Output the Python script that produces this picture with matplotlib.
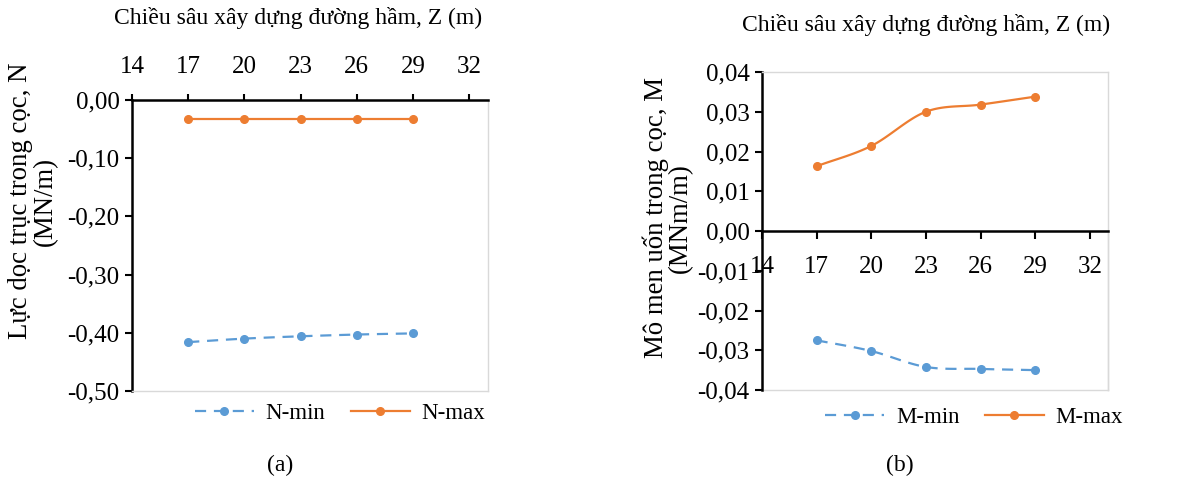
import numpy as np
import matplotlib.pyplot as plt
from matplotlib.ticker import FuncFormatter

plt.rcParams['font.family'] = ['Liberation Serif', 'DejaVu Serif']
plt.rcParams['font.size'] = 17

depth = [17, 20, 23, 26, 29]
n_min = [-0.416, -0.410, -0.406, -0.403, -0.401]
n_max = [-0.033, -0.033, -0.033, -0.033, -0.033]
m_min = [-0.0275, -0.0302, -0.0342, -0.0347, -0.0350]
m_max = [0.0163, 0.0214, 0.0300, 0.0318, 0.0338]

x_ticks = [14, 17, 20, 23, 26, 29, 32]
n_ticks = [0.0, -0.1, -0.2, -0.3, -0.4, -0.5]
m_ticks = [0.04, 0.03, 0.02, 0.01, 0.0, -0.01, -0.02, -0.03, -0.04]

BLUE = '#5B9BD5'
ORANGE = '#ED7D31'
GRID = '#D9D9D9'
W, H = 1201, 484
TICK_FS = 18
YLAB_FS = 19.3


def smooth(xs, ys, xlim, ylim, n=30):
    # Catmull-Rom curve through the points, like Excel's smoothed line
    px = (np.array(xs, float) - xlim[0]) / (xlim[1] - xlim[0])
    py = (np.array(ys, float) - ylim[0]) / (ylim[1] - ylim[0])
    P = np.column_stack([px, py])
    P = np.vstack([2 * P[0] - P[1], P, 2 * P[-1] - P[-2]])
    out = []
    t = np.linspace(0, 1, n)[:, None]
    for i in range(1, len(P) - 2):
        p0, p1, p2, p3 = P[i - 1], P[i], P[i + 1], P[i + 2]
        seg = 0.5 * ((2 * p1) + (-p0 + p2) * t + (2 * p0 - 5 * p1 + 4 * p2 - p3) * t ** 2
                     + (-p0 + 3 * p1 - 3 * p2 + p3) * t ** 3)
        out.append(seg if i == 1 else seg[1:])
    out = np.vstack(out)
    return (out[:, 0] * (xlim[1] - xlim[0]) + xlim[0],
            out[:, 1] * (ylim[1] - ylim[0]) + ylim[0])


def comma(v, pos):
    s = f"{v:.2f}".replace('.', ',')
    return "0,00" if s == "-0,00" else s


def series(ax, ys, color, dashed, label, xlim, ylim):
    sx, sy = smooth(depth, ys, xlim, ylim)
    ls = (0, (5, 3.5)) if dashed else '-'
    ax.plot(sx, sy, color=color, lw=1.6, ls=ls)
    ax.plot(depth, ys, 'o', color=color, ms=5.5)
    h, = ax.plot([], [], color=color, lw=1.6, ls=ls, marker='o', ms=5.5, label=label)
    return h


fig = plt.figure(figsize=(W / 100, H / 100), dpi=100)

# ---- panel (a)
xlim = (14, 33)
ylim = (-0.5, 0.0)
ax1 = fig.add_axes([132 / W, (H - 391) / H, (488 - 132) / W, (391 - 100) / H])
ax1.set_xlim(*xlim)
ax1.set_ylim(*ylim)
h1 = series(ax1, n_min, BLUE, True, 'N-min', xlim, ylim)
h2 = series(ax1, n_max, ORANGE, False, 'N-max', xlim, ylim)
ax1.xaxis.tick_top()
ax1.set_xticks(x_ticks)
ax1.set_yticks(n_ticks)
ax1.yaxis.set_major_formatter(FuncFormatter(comma))
ax1.tick_params(axis='x', direction='out', length=4, width=1.5, pad=12, labelsize=TICK_FS)
ax1.tick_params(axis='y', direction='out', length=5, width=1.5, pad=4, labelsize=TICK_FS)
for s in ['bottom', 'right']:
    ax1.spines[s].set_color(GRID)
    ax1.spines[s].set_linewidth(1)
for s in ['top', 'left']:
    ax1.spines[s].set_color('black')
    ax1.spines[s].set_linewidth(1.8)
ax1.legend(handles=[h1, h2], ncol=2, frameon=False, loc='center',
           bbox_to_anchor=(340 / W, 1 - 413 / H), bbox_transform=fig.transFigure,
           handlelength=2.6, columnspacing=1.1, handletextpad=0.5, fontsize=16.5)

fig.text(298 / W, 1 - 18 / H, 'Chiều sâu xây dựng đường hầm, Z (m)', ha='center', va='center')
fig.text(33 / W, 1 - 201 / H, 'Lực dọc trục trong cọc, N\n(MN/m)', ha='center', va='center',
         rotation=90, linespacing=0.95, fontsize=YLAB_FS)
fig.text(280 / W, 1 - 465 / H, '(a)', ha='center', va='center')

# ---- panel (b)
ylim2 = (-0.04, 0.04)
ax2 = fig.add_axes([762 / W, (H - 390) / H, (1108 - 762) / W, (390 - 72) / H])
ax2.set_xlim(*xlim)
ax2.set_ylim(*ylim2)
h3 = series(ax2, m_min, BLUE, True, 'M-min', xlim, ylim2)
h4 = series(ax2, m_max, ORANGE, False, 'M-max', xlim, ylim2)
ax2.set_xticks(x_ticks)
ax2.set_yticks(m_ticks)
ax2.yaxis.set_major_formatter(FuncFormatter(comma))
ax2.spines['bottom'].set_position(('data', 0))
ax2.spines['bottom'].set_color('black')
ax2.spines['bottom'].set_linewidth(1.8)
ax2.spines['left'].set_color('black')
ax2.spines['left'].set_linewidth(1.8)
for s in ['top', 'right']:
    ax2.spines[s].set_color(GRID)
    ax2.spines[s].set_linewidth(1)
ax2.plot([1, 1], [0, 0.5], transform=ax2.transAxes, color=GRID, lw=1, clip_on=False)
ax2.plot([0, 1], [0, 0], transform=ax2.transAxes, color=GRID, lw=1, clip_on=False)
ax2.tick_params(axis='x', direction='out', length=6, width=1.5, pad=12, labelsize=TICK_FS)
ax2.tick_params(axis='y', direction='out', length=5, width=1.5, pad=4, labelsize=TICK_FS)
ax2.legend(handles=[h3, h4], ncol=2, frameon=False, loc='center',
           bbox_to_anchor=(974 / W, 1 - 417 / H), bbox_transform=fig.transFigure,
           handlelength=2.6, columnspacing=1.1, handletextpad=0.5, fontsize=16.5)

fig.text(926 / W, 1 - 25 / H, 'Chiều sâu xây dựng đường hầm, Z (m)', ha='center', va='center')
fig.text(668 / W, 1 - 218 / H, 'Mô men uốn trong cọc, M\n(MNm/m)', ha='center', va='center',
         rotation=90, linespacing=0.95, fontsize=YLAB_FS)
fig.text(900 / W, 1 - 465 / H, '(b)', ha='center', va='center')

fig.savefig('out.png', dpi=100)
